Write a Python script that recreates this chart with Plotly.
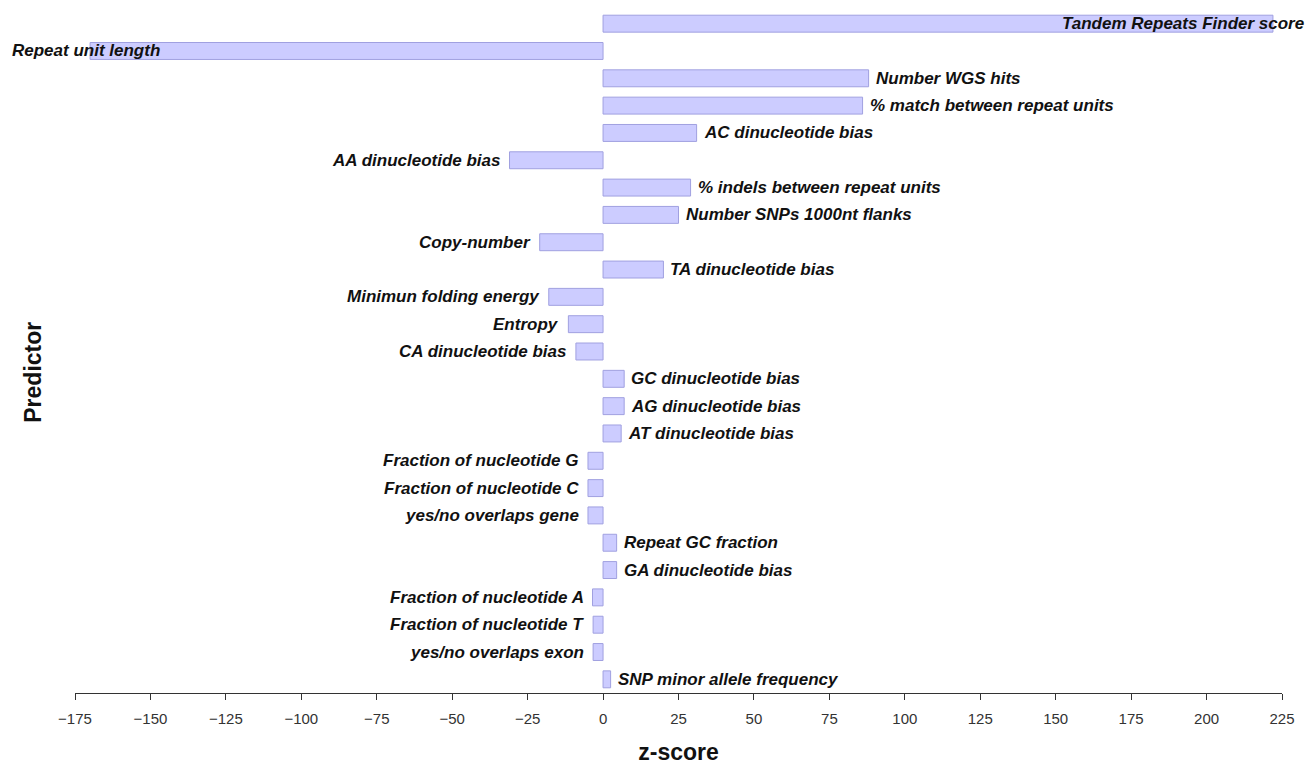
import plotly.graph_objects as go

predictors = [
    "Tandem Repeats Finder score", "Repeat unit length", "Number WGS hits",
    "% match between repeat units", "AC dinucleotide bias", "AA dinucleotide bias",
    "% indels between repeat units", "Number SNPs 1000nt flanks", "Copy-number",
    "TA dinucleotide bias", "Minimun folding energy", "Entropy", "CA dinucleotide bias",
    "GC dinucleotide bias", "AG dinucleotide bias", "AT dinucleotide bias",
    "Fraction of nucleotide G", "Fraction of nucleotide C", "yes/no overlaps gene",
    "Repeat GC fraction", "GA dinucleotide bias", "Fraction of nucleotide A",
    "Fraction of nucleotide T", "yes/no overlaps exon", "SNP minor allele frequency",
]
z_scores = [
    222, -170, 88, 86, 31, -31, 29, 25, -21, 20, -18, -11.5, -9,
    7, 7, 6, -5, -5, -5, 4.5, 4.5, -3.5, -3.3, -3.3, 2.5,
]
tick_vals = list(range(-175, 226, 25))

FONT = "Liberation Sans, Arial, sans-serif"

fig = go.Figure(go.Bar(
    x=z_scores, y=predictors, orientation="h",
    marker=dict(color="#ccccff", line=dict(color="#a0a0e0", width=1)),
    width=0.62,
))

for name, v in zip(predictors, z_scores):
    if v == max(z_scores):
        xa, xs = "right", 33
    elif v == min(z_scores):
        xa, xs = "left", -80
    elif v > 0:
        xa, xs = "left", 5
    else:
        xa, xs = "right", -7
    fig.add_annotation(
        x=v, y=name, xref="x", yref="y", text="<b><i>%s</i></b>" % name,
        showarrow=False, xanchor=xa, xshift=xs,
        font=dict(family=FONT, size=17, color="#111111"),
    )

# y-axis title
fig.add_annotation(
    x=-0.035, y=0.47, xref="paper", yref="paper", text="<b>Predictor</b>",
    textangle=-90, showarrow=False, xanchor="center", yanchor="middle",
    font=dict(family=FONT, size=23, color="#111"),
)

fig.update_layout(
    width=1311, height=765,
    margin=dict(l=75, r=29, t=10, b=72),
    paper_bgcolor="white", plot_bgcolor="white",
    showlegend=False,
    xaxis=dict(
        range=[-175, 225], tickmode="array", tickvals=tick_vals,
        ticks="outside", ticklen=6, tickcolor="#333", tickwidth=1,
        showline=True, linecolor="#333", linewidth=1,
        showgrid=False, zeroline=False, automargin=False,
        tickfont=dict(family=FONT, size=15, color="#333"),
        ticklabelstandoff=6,
        title=dict(text="<b>z-score</b>", font=dict(family=FONT, size=23, color="#111"), standoff=20),
    ),
    yaxis=dict(
        autorange="reversed", showticklabels=False, showgrid=False,
        zeroline=False, showline=False, ticks="", automargin=False,
    ),
)

fig.write_html("out.html", config={"displayModeBar": False},
               post_script="document.body.style.margin='0';")
